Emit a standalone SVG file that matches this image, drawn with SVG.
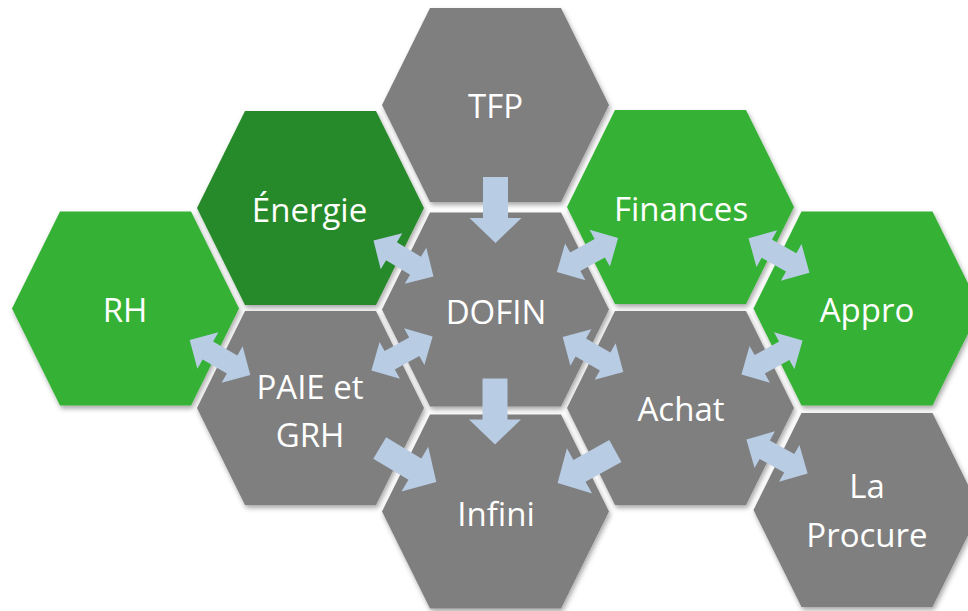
<svg xmlns="http://www.w3.org/2000/svg" xmlns:xlink="http://www.w3.org/1999/xlink" width="968" height="611" viewBox="0 0 968 611">
<style>
.gray{fill:#7f7f7f}
.green{fill:#36b236}
.dgreen{fill:#288a2b}
.hex{filter:url(#sh)}
.arr{fill:#b8cce4}
text{font-family:"Open Sans","Liberation Sans",sans-serif;font-size:33px;fill:#ffffff;text-anchor:middle}
</style>
<defs>
<filter id="sh" x="-10%" y="-10%" width="125%" height="125%">
<feDropShadow dx="1.5" dy="3" stdDeviation="2.5" flood-color="#000" flood-opacity="0.35"/>
</filter>
<path id="hexp" d="M-113.5,0 L-65.5,-97 L65.5,-97 L113.5,0 L65.5,97 L-65.5,97 Z"/>
<path id="one" d="M-33,-12.5 H8 V-26 L33,0 L8,26 V12.5 H-33 Z"/>
<path id="two" d="M-35,0 L-14,-21 V-10.5 H14 V-21 L35,0 L14,21 V10.5 H-14 V21 Z"/>
</defs>
<rect width="968" height="611" fill="#ffffff"/>
<g id="nodes">
<g id="n-tfp"><use href="#hexp" class="hex gray" transform="translate(495.5,105)"/><text x="495.5" y="118">TFP</text></g>
<g id="n-energie"><use href="#hexp" class="hex dgreen" transform="translate(310.5,208)"/><text x="309.5" y="222">Énergie</text></g>
<g id="n-finances"><use href="#hexp" class="hex green" transform="translate(680.5,207)"/><text x="681" y="221">Finances</text></g>
<g id="n-rh"><use href="#hexp" class="hex green" transform="translate(125.5,308.5)"/><text x="125" y="322">RH</text></g>
<g id="n-dofin"><use href="#hexp" class="hex gray" transform="translate(495.5,309.5)"/><text x="496" y="324">DOFIN</text></g>
<g id="n-appro"><use href="#hexp" class="hex green" transform="translate(867,308.5)"/><text x="867" y="322">Appro</text></g>
<g id="n-paie"><use href="#hexp" class="hex gray" transform="translate(310.5,408)"/><text x="310" y="399">PAIE et</text><text x="310" y="446.5">GRH</text></g>
<g id="n-achat"><use href="#hexp" class="hex gray" transform="translate(680.5,408)"/><text x="681" y="421">Achat</text></g>
<g id="n-infini"><use href="#hexp" class="hex gray" transform="translate(495.5,511.5)"/><text x="496" y="526">Infini</text></g>
<g id="n-procure"><use href="#hexp" class="hex gray" transform="translate(867,510)"/><text x="867" y="498">La</text><text x="867" y="546.5">Procure</text></g>
</g>
<g id="connectors" class="arr">
<use href="#one" transform="translate(495.5,210) rotate(90)"/>
<use href="#one" transform="translate(495,411.5) rotate(90)"/>
<use href="#one" transform="translate(408,465) rotate(31)"/>
<use href="#one" transform="translate(586.5,467) rotate(151)"/>
<use href="#two" transform="translate(403.5,258.5) rotate(31)"/>
<use href="#two" transform="translate(587.5,255) rotate(-29)"/>
<use href="#two" transform="translate(779,255.5) rotate(29.5)"/>
<use href="#two" transform="translate(220,357.5) rotate(30)"/>
<use href="#two" transform="translate(402,353.5) rotate(-29)"/>
<use href="#two" transform="translate(593,354.5) rotate(30)"/>
<use href="#two" transform="translate(772,357.5) rotate(-29)"/>
<use href="#two" transform="translate(777,456.5) rotate(29)"/>
</g>
</svg>
